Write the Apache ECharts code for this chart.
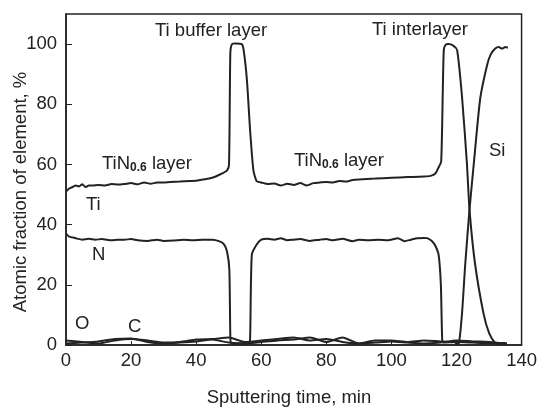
<!DOCTYPE html>
<html><head><meta charset="utf-8">
<script src="https://cdn.jsdelivr.net/npm/echarts@6/dist/echarts.min.js"></script>
<style>html,body{margin:0;padding:0;background:#fff}#c{width:540px;height:409px}</style>
</head><body><div id="c"></div>
<script>
// Sputtering time (min) and atomic fraction (%) for each element
const tiTime = [0,1,2,3,4,5,6,7,8,10,12,14,16,18,20,22,24,26,28,30,32,35,38,40,42,44,46,48,49.5,50.1,50.5,51,52,54,54.6,55.6,56.6,57.6,58.6,60,62,64,66,68,70,72,74,76,78,80,82,84,86,88,90,95,100,105,110,112,113.5,114.5,115.3,115.8,116.1,116.6,117.5,119,120.2,121.7,123.2,124,125.7,128.3,130,131.8,133,135.5];
const tiVal  = [51,52,52.5,53,52.7,53.4,52.5,53,53,53.2,53,53.5,53.3,53.5,53.8,53.4,54,53.6,54,54,54.2,54.3,54.5,54.6,55,55.3,56,57,58,60,97,100,100.2,100,98,88,71,58,54.4,54,53.5,53.7,53,53.6,53.2,53.8,53,53.8,54,54.2,54,54.5,54.3,54.8,55,55.3,55.6,55.8,56,56.2,57,59,61,85,98,99.7,100,99.5,98,82.5,60.4,45,27,10.5,4,0.8,0.6,0.5];
const nTime = [0,1,3,5,7,9,11,14,16,18,20,22,25,28,30,33,36,39,42,45,47,48.5,49.5,50.2,50.5,50.8,53,56.3,56.6,57.1,58.6,60,62,64,66,68,70,72,75,78,80,82,85,88,90,93,96,99,102,104,106,108,110,111,112.5,113.5,114.5,115.2,115.6,116,120,125,130,135.5];
const nVal  = [37,36,35.5,35,35.3,35,35.2,34.8,35,35,35.2,34.8,34.6,35,34.6,34.7,35,34.8,35,35,34.5,33.5,31,25,3,0.6,0.5,0.6,3,30,33.4,35,35.3,35,35.5,34.8,35,35.2,34.6,35,35.2,34.8,35.3,34.5,35,34.8,35,34.8,35.5,34.5,35,35.5,35.6,35.5,34.5,33,30,20,2,0.8,1,0.8,0.6,0.5];
const siTime = [119.5,120.7,121.7,122.7,124,125.3,127.3,129.4,130.5,131.9,133,134,135,135.8];
const siVal  = [0.3,0.5,10.5,27,45,60,82,93,96.5,98.5,99,98.5,99,98.8];
const oTime = [0,5,10,15,20,25,30,35,40,45,50,55,60,65,70,75,80,85,90,95,100,105,110,115,120,125,130,135];
const oVal  = [1.5,1,0.5,1.5,2,1.5,0.8,1,1.8,2,2.5,1,1.5,2,2.5,1.5,2,1,0.5,1.5,1.5,1,1.5,1.2,1,1,0.8,0.5];
const cTime = [0,5,10,15,20,25,30,35,40,45,50,55,60,65,70,75,80,85,90,95,100,105,110,115,120,125,130,135];
const cVal  = [0.5,0.8,1.2,2,2.2,1,0.5,0.8,1.2,1.8,0.8,0.5,1,1.5,1.8,2.5,1,2.5,0.5,0.8,1.2,0.8,0.5,0.8,1.5,1.2,1,0.5];
const xTicks = [0,20,40,60,80,100,120,140];
const yTicks = [0,20,40,60,80,100];

const pairs = (xs, ys) => xs.map((x, i) => [x, ys[i]]);
const ink = '#222';
const font = 'Liberation Sans, Arial, sans-serif';
const fs = 18.5;
const lineSeries = (name, xs, ys) => ({
  name, type: 'line', data: pairs(xs, ys), showSymbol: false, smooth: 0.2,
  lineStyle: { color: ink, width: 2 }, animation: false
});
const label = (text, x, y, size) => ({
  type: 'text', x, y, style: { text, font: (size || fs) + 'px ' + font, fill: ink, align: 'left', verticalAlign: 'middle' }
});
const tinLabel = (x, y) => ({
  type: 'text', x, y,
  style: {
    align: 'left', verticalAlign: 'middle',
    rich: {
      a: { font: fs + 'px ' + font, fill: ink },
      s: { font: 'bold 12px ' + font, fill: ink, padding: [7, 0, 0, 0] }
    },
    text: '{a|TiN}{s|0.6}{a| layer}'
  }
});

const chart = echarts.init(document.getElementById('c'), null, { renderer: 'canvas' });
chart.setOption({
  backgroundColor: '#fff',
  animation: false,
  grid: { left: 66, right: 18, top: 14, bottom: 64, show: true, borderColor: ink, borderWidth: 1.5, containLabel: false },
  xAxis: {
    type: 'value', min: xTicks[0], max: xTicks[xTicks.length - 1], interval: 20,
    axisLine: { show: true, lineStyle: { color: ink, width: 1.5 } },
    axisTick: { show: true, inside: true, length: 4, lineStyle: { color: ink } },
    splitLine: { show: false },
    axisLabel: { color: ink, fontSize: fs, fontFamily: font, margin: 6 }
  },
  yAxis: {
    type: 'value', min: 0, max: 110, interval: 20,
    axisLine: { show: true, lineStyle: { color: ink, width: 1.5 } },
    axisTick: { show: true, inside: true, length: 6, lineStyle: { color: ink }, customValues: yTicks },
    splitLine: { show: false },
    axisLabel: { color: ink, fontSize: fs, fontFamily: font, margin: 9, customValues: yTicks }
  },
  series: [
    lineSeries('Ti', tiTime, tiVal),
    lineSeries('N', nTime, nVal),
    lineSeries('Si', siTime, siVal),
    lineSeries('O', oTime, oVal),
    lineSeries('C', cTime, cVal)
  ],
  graphic: [
    label('Ti buffer layer', 155, 31),
    label('Ti interlayer', 372, 30),
    tinLabel(102, 164),
    tinLabel(294, 161),
    label('Ti', 86, 205),
    label('N', 92, 255),
    label('O', 75, 324),
    label('C', 128, 327),
    label('Si', 489, 151),
    { type: 'text', x: 289, y: 398, style: { text: 'Sputtering time, min', font: fs + 'px ' + font, fill: ink, align: 'center', verticalAlign: 'middle' } },
    { type: 'text', x: 21, y: 192, rotation: Math.PI / 2, style: { text: 'Atomic fraction of element, %', font: fs + 'px ' + font, fill: ink, align: 'center', verticalAlign: 'middle' } }
  ]
});
</script></body></html>
